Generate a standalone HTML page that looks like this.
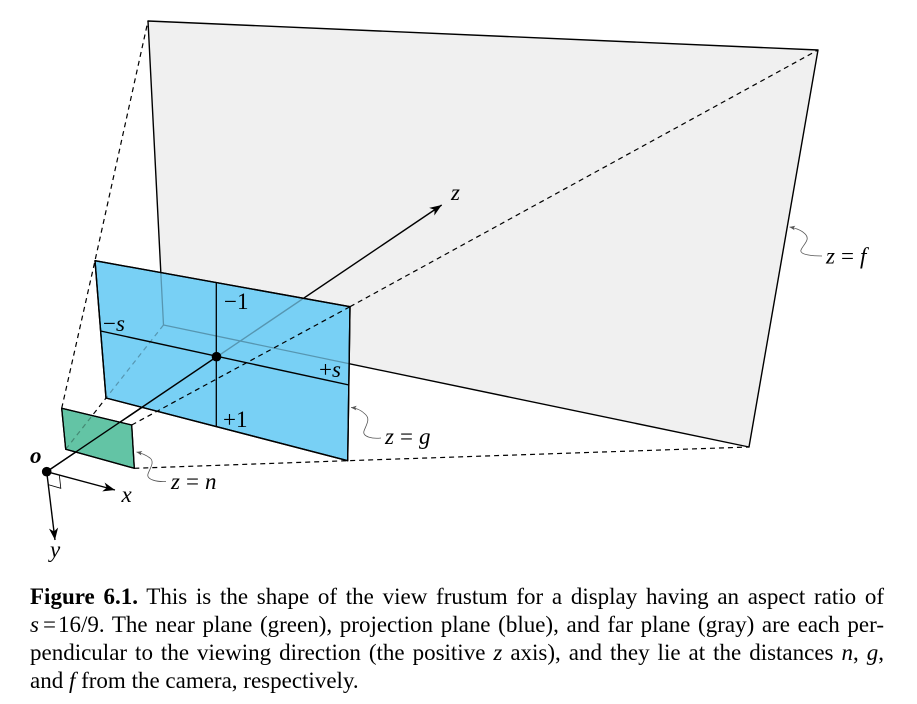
<!DOCTYPE html>
<html>
<head>
<meta charset="utf-8">
<style>
  html,body{margin:0;padding:0;background:#fff;}
  body{width:917px;height:704px;position:relative;overflow:hidden;}
  svg{position:absolute;left:0;top:0;}
  .cap{position:absolute;left:30px;top:583px;width:854px;font-family:"Liberation Serif",serif;font-size:23px;line-height:28px;color:#000;}
  .cap div{text-align:justify;text-align-last:justify;white-space:normal;}
  .cap div.last{text-align:left;text-align-last:left;}
  .lbl{font-family:"Liberation Serif",serif;font-size:23px;fill:#000;}
  .it{font-style:italic;}
</style>
</head>
<body>
<svg width="917" height="704" viewBox="0 0 917 704" xmlns="http://www.w3.org/2000/svg">
  <defs>
    <marker id="ah" viewBox="-13 -6 14 12" refX="0" refY="0" markerWidth="14" markerHeight="12" markerUnits="userSpaceOnUse" orient="auto">
      <path d="M0,0 L-12,-4.6 L-8.6,0 L-12,4.6 Z" fill="#000"/>
    </marker>
    <marker id="ahs" viewBox="-7 -4 8 8" refX="0" refY="0" markerWidth="8" markerHeight="8" markerUnits="userSpaceOnUse" orient="auto">
      <path d="M0,0 L-5.5,-2.3 L-4.2,0 L-5.5,2.3 Z" fill="#555"/>
    </marker>
    <clipPath id="blueClip"><polygon points="95,260.7 350,306.7 347.7,460.7 106,398"/></clipPath>
    <clipPath id="greenClip"><polygon points="61.7,408.3 131.7,425 134.3,468.3 65.7,449.3"/></clipPath>
  </defs>

  <!-- far plane -->
  <polygon points="148,21 818,50 749,447 163.5,325" fill="#f0f0f0" stroke="#000" stroke-width="1.4" stroke-linejoin="round"/>

  <!-- dashed frustum edges (background) -->
  <polyline points="61.7,408.3 95,260.7 148,21" fill="none" stroke="#000" stroke-width="1.2" stroke-dasharray="5 4"/>
  <line x1="350" y1="306.7" x2="818" y2="50" stroke="#000" stroke-width="1.2" stroke-dasharray="5 4"/>
  <polyline points="134.3,468.3 347.7,460.7 749,447" fill="none" stroke="#000" stroke-width="1.2" stroke-dasharray="5 4"/>
  <line x1="65.7" y1="449.3" x2="163.5" y2="325" stroke="#000" stroke-width="1.2" stroke-dasharray="5 4"/>

  <!-- z axis (full, black) -->
  <line x1="46.7" y1="471.7" x2="441.7" y2="205" stroke="#000" stroke-width="1.4" marker-end="url(#ah)"/>

  <!-- projection plane -->
  <polygon points="95,260.7 350,306.7 347.7,460.7 106,398" fill="#78d0f5" stroke="#000" stroke-width="1.4" stroke-linejoin="round"/>

  <!-- faint hidden lines behind blue -->
  <g clip-path="url(#blueClip)" opacity="0.28">
    <polyline points="148,21 163.5,325 749,447" fill="none" stroke="#000" stroke-width="1.3"/>
    <line x1="65.7" y1="449.3" x2="163.5" y2="325" stroke="#000" stroke-width="1.2" stroke-dasharray="5 4"/>
    <line x1="46.7" y1="471.7" x2="441.7" y2="205" stroke="#000" stroke-width="1.4"/>
  </g>
  <polygon points="95,260.7 350,306.7 347.7,460.7 106,398" fill="none" stroke="#000" stroke-width="1.4" stroke-linejoin="round"/>

  <!-- cross lines on blue -->
  <line x1="100.6" y1="331" x2="349" y2="385" stroke="#000" stroke-width="1.4"/>
  <line x1="216.3" y1="282.5" x2="216.3" y2="426.5" stroke="#000" stroke-width="1.3"/>

  <!-- front dashed line -->
  <line x1="131.7" y1="425" x2="350" y2="306.7" stroke="#000" stroke-width="1.2" stroke-dasharray="5 4"/>

  <!-- near plane -->
  <polygon points="61.7,408.3 131.7,425 134.3,468.3 65.7,449.3" fill="#63c4a5" stroke="#000" stroke-width="1.3" stroke-linejoin="round"/>
  <g clip-path="url(#greenClip)" opacity="0.3">
    <line x1="65.7" y1="449.3" x2="163.5" y2="325" stroke="#000" stroke-width="1.2" stroke-dasharray="5 4"/>
  </g>
  <polygon points="61.7,408.3 131.7,425 134.3,468.3 65.7,449.3" fill="none" stroke="#000" stroke-width="1.3" stroke-linejoin="round"/>

  <!-- z axis front part -->
  <line x1="46.7" y1="471.7" x2="216.7" y2="356.7" stroke="#000" stroke-width="1.4"/>
  <circle cx="216.5" cy="356.7" r="4.8" fill="#000"/>

  <!-- x and y axes -->
  <line x1="46.7" y1="471.7" x2="115" y2="490" stroke="#000" stroke-width="1.4" marker-end="url(#ah)"/>
  <line x1="46.7" y1="471.7" x2="55" y2="540" stroke="#000" stroke-width="1.4" marker-end="url(#ah)"/>
  <polyline points="48.2,484.6 60.8,488.3 59.3,474.8" fill="none" stroke="#000" stroke-width="0.8"/>
  <circle cx="46.7" cy="471.7" r="4.8" fill="#000"/>

  <!-- pointers -->
  <path d="M166,481.5 C158,482 146,480 148,474 C150,468 155,462 150,458 C146,455 141,453 136.5,452" fill="none" stroke="#555" stroke-width="0.8" marker-end="url(#ahs)"/>
  <path d="M381,438 C373,439 362,437 364,431 C366,425 371,419 365,414 C361,410 356,408 351,407.5" fill="none" stroke="#555" stroke-width="0.8" marker-end="url(#ahs)"/>
  <path d="M822,256 C814,256 799,255 801,250 C803,245 810,240 806,235 C802,230 795,228 789.5,227" fill="none" stroke="#555" stroke-width="0.8" marker-end="url(#ahs)"/>

  <!-- labels -->
  <text class="lbl it" x="451" y="200">z</text>
  <text class="lbl it" x="121.5" y="502">x</text>
  <text class="lbl it" x="50" y="557">y</text>
  <text class="lbl it" x="30" y="463" font-weight="bold">o</text>
  <text class="lbl" x="224" y="309">−1</text>
  <text class="lbl" x="103" y="331">−<tspan class="it">s</tspan></text>
  <text class="lbl" x="319" y="377">+<tspan class="it">s</tspan></text>
  <text class="lbl" x="223" y="427">+1</text>
  <text class="lbl" x="171" y="489"><tspan class="it">z</tspan><tspan dx="6">=</tspan><tspan class="it" dx="6">n</tspan></text>
  <text class="lbl" x="385" y="444"><tspan class="it">z</tspan><tspan dx="6">=</tspan><tspan class="it" dx="6">g</tspan></text>
  <text class="lbl" x="826" y="263.5"><tspan class="it">z</tspan><tspan dx="6">=</tspan><tspan class="it" dx="6">f</tspan></text>
</svg>

<div class="cap">
  <div><b>Figure 6.1.</b> This is the shape of the view frustum for a display having an aspect ratio of</div>
  <div><i>s</i><span style="margin:0 2px 0 4px">=</span>16/9. The near plane (green), projection plane (blue), and far plane (gray) are each per-</div>
  <div>pendicular to the viewing direction (the positive <i>z</i> axis), and they lie at the distances <i>n</i>, <i>g</i>,</div>
  <div class="last">and <i>f</i> from the camera, respectively.</div>
</div>
</body>
</html>
